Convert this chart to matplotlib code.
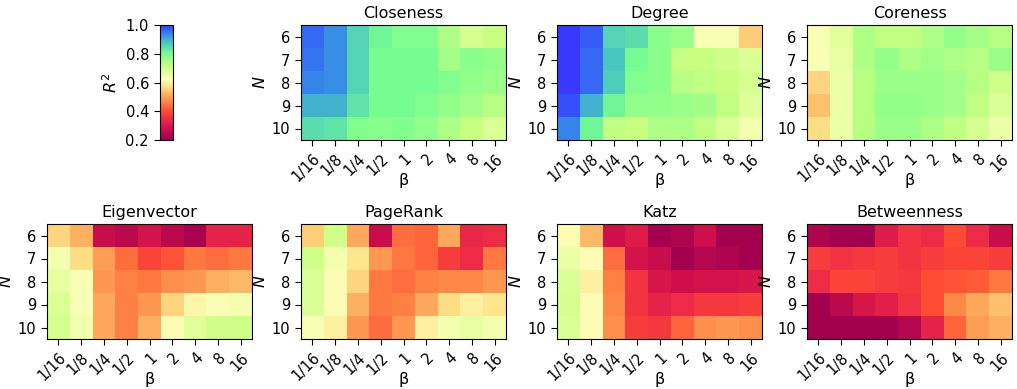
import matplotlib
matplotlib.use("Agg")
import matplotlib.pyplot as plt
import numpy as np
from matplotlib.colors import LinearSegmentedColormap

# R^2 per (N, beta) for each centrality measure
N_VALUES = [6, 7, 8, 9, 10]
BETA_LABELS = ["1/16", "1/8", "1/4", "1/2", "1", "2", "4", "8", "16"]

closeness = [
    [0.96, 0.93, 0.86, 0.81, 0.79, 0.79, 0.74, 0.69, 0.71],
    [0.95, 0.93, 0.86, 0.80, 0.80, 0.80, 0.75, 0.78, 0.77],
    [0.94, 0.93, 0.86, 0.80, 0.80, 0.80, 0.79, 0.77, 0.76],
    [0.90, 0.90, 0.84, 0.80, 0.80, 0.79, 0.77, 0.75, 0.73],
    [0.85, 0.84, 0.79, 0.78, 0.79, 0.77, 0.74, 0.71, 0.68],
]
degree = [
    [1.00, 0.97, 0.86, 0.85, 0.78, 0.76, 0.63, 0.63, 0.55],
    [1.00, 0.96, 0.88, 0.80, 0.78, 0.71, 0.71, 0.70, 0.68],
    [1.00, 0.96, 0.87, 0.79, 0.78, 0.73, 0.72, 0.71, 0.69],
    [0.98, 0.90, 0.81, 0.77, 0.77, 0.76, 0.75, 0.72, 0.67],
    [0.94, 0.81, 0.72, 0.71, 0.74, 0.74, 0.72, 0.68, 0.64],
]
coreness = [
    [0.63, 0.67, 0.74, 0.72, 0.72, 0.74, 0.77, 0.75, 0.73],
    [0.63, 0.66, 0.74, 0.77, 0.74, 0.75, 0.74, 0.73, 0.76],
    [0.56, 0.65, 0.73, 0.76, 0.76, 0.76, 0.75, 0.73, 0.70],
    [0.54, 0.65, 0.73, 0.77, 0.77, 0.76, 0.75, 0.72, 0.68],
    [0.57, 0.65, 0.73, 0.76, 0.76, 0.74, 0.72, 0.69, 0.65],
]
eigenvector = [
    [0.56, 0.52, 0.27, 0.25, 0.29, 0.25, 0.22, 0.33, 0.33],
    [0.64, 0.57, 0.50, 0.44, 0.39, 0.41, 0.45, 0.44, 0.45],
    [0.66, 0.63, 0.49, 0.46, 0.45, 0.48, 0.49, 0.52, 0.53],
    [0.68, 0.63, 0.51, 0.46, 0.49, 0.56, 0.61, 0.63, 0.64],
    [0.69, 0.64, 0.51, 0.46, 0.52, 0.62, 0.67, 0.70, 0.70],
]
pagerank = [
    [0.55, 0.70, 0.51, 0.27, 0.44, 0.43, 0.51, 0.34, 0.35],
    [0.70, 0.64, 0.58, 0.49, 0.45, 0.43, 0.38, 0.35, 0.45],
    [0.68, 0.62, 0.56, 0.45, 0.44, 0.46, 0.47, 0.47, 0.49],
    [0.68, 0.62, 0.52, 0.45, 0.46, 0.51, 0.57, 0.60, 0.58],
    [0.63, 0.60, 0.49, 0.44, 0.49, 0.60, 0.64, 0.66, 0.64],
]
katz = [
    [0.62, 0.53, 0.28, 0.31, 0.21, 0.23, 0.28, 0.21, 0.21],
    [0.65, 0.62, 0.44, 0.29, 0.27, 0.21, 0.24, 0.23, 0.21],
    [0.68, 0.60, 0.46, 0.36, 0.30, 0.28, 0.29, 0.29, 0.30],
    [0.69, 0.62, 0.47, 0.36, 0.33, 0.35, 0.37, 0.37, 0.38],
    [0.68, 0.62, 0.48, 0.38, 0.37, 0.43, 0.48, 0.49, 0.48],
]
betweenness = [
    [0.23, 0.21, 0.21, 0.31, 0.36, 0.35, 0.40, 0.35, 0.27],
    [0.38, 0.36, 0.37, 0.38, 0.36, 0.38, 0.39, 0.39, 0.38],
    [0.35, 0.39, 0.39, 0.38, 0.37, 0.40, 0.41, 0.42, 0.45],
    [0.21, 0.25, 0.30, 0.32, 0.36, 0.40, 0.47, 0.51, 0.54],
    [0.21, 0.21, 0.21, 0.21, 0.24, 0.33, 0.43, 0.50, 0.52],
]

TITLES = ["Closeness", "Degree", "Coreness",
          "Eigenvector", "PageRank", "Katz", "Betweenness"]
DATA = [closeness, degree, coreness, eigenvector, pagerank, katz, betweenness]

# crimson -> red -> orange -> pale yellow -> green -> teal -> blue
cmap = LinearSegmentedColormap.from_list("r2", [
    (0.00, "#9e0050"),
    (0.10, "#d0104c"),
    (0.18, "#ec2a48"),
    (0.25, "#ff4a34"),
    (0.33, "#ff8444"),
    (0.40, "#fdb060"),
    (0.47, "#fee48a"),
    (0.53, "#fcffb8"),
    (0.64, "#c8ff80"),
    (0.75, "#78ff90"),
    (0.85, "#48c8c0"),
    (0.93, "#3480ee"),
    (1.00, "#3838ff"),
])

W, H = 1017, 389
fig = plt.figure(figsize=(W / 100, H / 100), dpi=100)


def px_axes(x, y, w, h):
    return fig.add_axes([x / W, 1 - (y + h) / H, w / W, h / H])


lefts = [47, 301, 557, 807]
slots = [(0, 1), (0, 2), (0, 3), (1, 0), (1, 1), (1, 2), (1, 3)]
tops = [25, 224]

im = None
for (row, col), title, vals in zip(slots, TITLES, DATA):
    ax = px_axes(lefts[col], tops[row], 205, 115)
    im = ax.imshow(np.array(vals), cmap=cmap, vmin=0.2, vmax=1.0, aspect="auto")
    ax.set_title(title, fontsize=11.5, pad=5)
    ax.set_xticks(range(len(BETA_LABELS)))
    ax.set_xticklabels(BETA_LABELS, rotation=45, ha="right", rotation_mode="anchor",
                       fontsize=10.5)
    ax.set_yticks(range(len(N_VALUES)))
    ax.set_yticklabels(N_VALUES, fontsize=10.5)
    ax.tick_params(length=4.5)
    ax.set_xlabel("β", fontsize=11.5)
    ax.xaxis.set_label_coords(0.5, -0.29)
    ax.set_ylabel("$N$", fontsize=11.5, labelpad=2)

cax = px_axes(160, 25, 13, 115)
cb = fig.colorbar(im, cax=cax, ticks=[0.2, 0.4, 0.6, 0.8, 1.0])
cax.yaxis.set_ticks_position("left")
cax.yaxis.set_label_position("left")
cb.ax.tick_params(labelsize=10.5, length=4.5)
cb.set_label("$R^2$", fontsize=11.5)

fig.savefig("out.png", dpi=100)
